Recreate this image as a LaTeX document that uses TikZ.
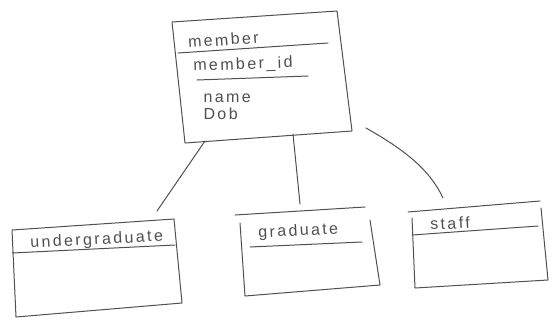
\documentclass[tikz,border=0pt]{standalone}
\usepackage{fontspec}
\newfontfamily\hand{Liberation Sans}[LetterSpace=15]
\definecolor{ink}{HTML}{505050}
\begin{document}
\begin{tikzpicture}[x=1pt,y=-1pt,line width=1pt,line cap=round,line join=round,
  every path/.style={draw=ink},
  lbl/.style={font=\hand\fontsize{16}{18}\selectfont,text=ink,inner sep=0pt,anchor=base west}]
\useasboundingbox[draw=none,fill=white] (0,0) rectangle (556,327);
% member
\coordinate (m1) at (172,22); \coordinate (m2) at (337,11);
\coordinate (m3) at (352,131); \coordinate (m4) at (185,143);
\draw (m1)--(m2)--(m3)--(m4)--cycle;
\coordinate (mh1) at (178,53); \coordinate (mh2) at (328,43);
\draw (mh1)--(mh2);
\node[lbl,rotate=4] (memberT) at (188,48) {member};
\node[lbl,rotate=2] (midT) at (193,71) {member\_id};
\coordinate (mu1) at (197,80); \coordinate (mu2) at (308,76);
\draw (mu1)--(mu2);
\node[lbl] (nameT) at (203,102) {name};
\node[lbl] (dobT) at (203,119) {Dob};
% undergraduate
\coordinate (u1) at (12,230); \coordinate (u2) at (174,219);
\coordinate (u3) at (182,303); \coordinate (u4) at (16,317);
\draw (u1)--(u2)--(u3)--(u4)--cycle;
\coordinate (uh1) at (12,253); \coordinate (uh2) at (175,245);
\draw (uh1)--(uh2);
\node[lbl,rotate=3] (ugT) at (30,248) {undergraduate};
% graduate
\coordinate (g1) at (235,215); \coordinate (g2) at (365,207);
\coordinate (g3) at (240,223); \coordinate (g4) at (245,296);
\coordinate (g5) at (380,285); \coordinate (g6) at (370,220);
\draw (g1)--(g2);
\draw (g3)--(g4)--(g5)--(g6);
\coordinate (gu1) at (250,247); \coordinate (gu2) at (362,242);
\draw (gu1)--(gu2);
\node[lbl,rotate=3] (gradT) at (258,238) {graduate};
% staff
\coordinate (s1) at (408,212); \coordinate (s2) at (540,201);
\coordinate (s3) at (412,218); \coordinate (s4) at (415,288);
\coordinate (s5) at (548,280); \coordinate (s6) at (541,208);
\draw (s1)--(s2);
\draw (s3)--(s4)--(s5)--(s6);
\coordinate (sh1) at (412,235); \coordinate (sh2) at (538,226);
\draw (sh1)--(sh2);
\node[lbl,rotate=3] (staffT) at (430,230) {staff};
% connectors
\coordinate (cl1) at (205,141); \coordinate (cl2) at (157,211);
\coordinate (cm1) at (293,134); \coordinate (cm2) at (300,204);
\coordinate (cr1) at (366,128); \coordinate (cr2) at (443,198);
\draw (cl1)--(cl2);
\draw (cm1)--(cm2);
\draw (cr1) .. controls (405,150) and (430,170) .. (cr2);
\end{tikzpicture}
\end{document}
